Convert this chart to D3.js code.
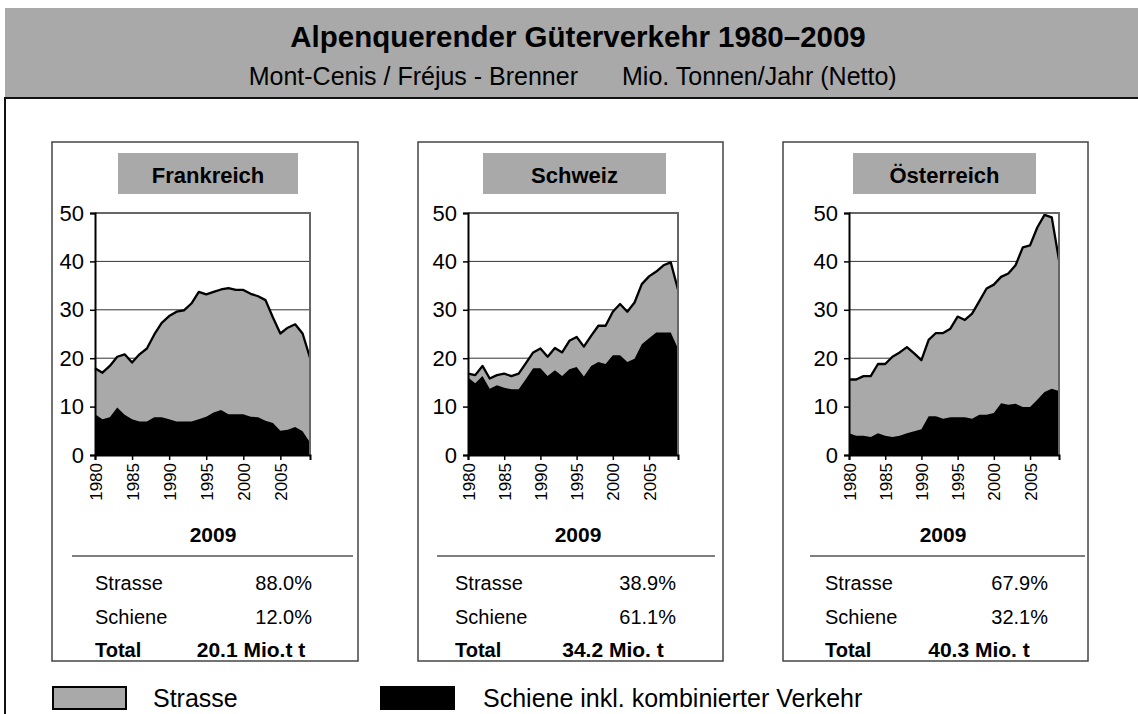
<!DOCTYPE html>
<html>
<head>
<meta charset="utf-8">
<script src="https://cdn.jsdelivr.net/npm/d3@7"></script>
<style>
  html, body { margin: 0; padding: 0; background: #fff; }
  svg { display: block; font-family: "Liberation Sans", Arial, sans-serif; }
</style>
</head>
<body>
<svg id="chart" width="1138" height="714"></svg>
<script>
/////////////////////////////////
// Alpine freight traffic, three small stacked area charts.
//

const years = [1980, 1981, 1982, 1983, 1984, 1985, 1986, 1987, 1988, 1989,
    1990, 1991, 1992, 1993, 1994, 1995, 1996, 1997, 1998, 1999,
    2000, 2001, 2002, 2003, 2004, 2005, 2006, 2007, 2008, 2009];

const countries = ["Frankreich", "Schweiz", "Österreich"];

// Total (Strasse + Schiene), Mio. t.
const totalFR = [17.9, 17.0, 18.4, 20.3, 20.8, 19.1, 20.8, 22.0, 24.9, 27.3,
    28.7, 29.6, 29.9, 31.3, 33.7, 33.2, 33.7, 34.2, 34.5, 34.1,
    34.1, 33.3, 32.8, 32.0, 28.4, 25.1, 26.3, 27.0, 25.1, 20.1];
const totalCH = [16.8, 16.5, 18.4, 15.8, 16.5, 16.8, 16.3, 16.8, 19.0, 21.2,
    22.0, 20.3, 22.1, 21.2, 23.6, 24.4, 22.4, 24.6, 26.7, 26.7,
    29.6, 31.2, 29.6, 31.5, 35.3, 36.9, 37.9, 39.2, 39.8, 34.2];
const totalAT = [15.6, 15.6, 16.3, 16.3, 18.8, 18.8, 20.3, 21.2, 22.3, 21.0,
    19.6, 23.8, 25.2, 25.2, 26.1, 28.6, 27.9, 29.2, 31.8, 34.4,
    35.2, 36.8, 37.5, 39.2, 42.9, 43.3, 47.0, 49.6, 49.1, 40.3];

// Schiene inkl. kombinierter Verkehr, Mio. t.
const railFR = [8.4, 7.4, 7.8, 9.8, 8.3, 7.4, 6.9, 6.9, 7.8, 7.8,
    7.4, 6.9, 6.9, 6.9, 7.4, 7.9, 8.8, 9.3, 8.4, 8.4,
    8.4, 7.9, 7.8, 7.1, 6.6, 5.0, 5.2, 5.8, 4.9, 2.6];
const railCH = [16.0, 14.8, 16.3, 13.7, 14.4, 13.9, 13.6, 13.6, 15.7, 17.9,
    17.9, 16.3, 17.5, 16.3, 17.7, 18.2, 16.2, 18.4, 19.2, 18.8,
    20.6, 20.6, 19.2, 19.9, 22.9, 24.1, 25.3, 25.3, 25.3, 22.0];
const railAT = [4.5, 4.0, 4.0, 3.7, 4.5, 4.0, 3.7, 4.0, 4.5, 4.9,
    5.3, 8.0, 8.0, 7.5, 7.8, 7.8, 7.8, 7.5, 8.3, 8.3,
    8.7, 10.7, 10.4, 10.6, 9.9, 9.9, 11.4, 13.0, 13.7, 13.2];

const shareRoad = ["88.0%", "38.9%", "67.9%"];
const shareRail = ["12.0%", "61.1%", "32.1%"];
const totalText = ["20.1 Mio.t t", "34.2 Mio. t", "40.3 Mio. t"];

const yTicks = [0, 10, 20, 30, 40, 50];
const xTicks = [1980, 1985, 1990, 1995, 2000, 2005];

const totals = [totalFR, totalCH, totalAT];
const rails = [railFR, railCH, railAT];

// Layout of each panel (page coordinates).
const panels = [
    { x0: 52, x1: 358, plotL: 95, plotR: 310, boxL: 118, boxR: 298, tabL: 95, tabR: 312, valC: 251, yearC: 213, lineL: 72, lineR: 353 },
    { x0: 418, x1: 723, plotL: 468, plotR: 678, boxL: 483, boxR: 666, tabL: 455, tabR: 676, valC: 613, yearC: 578, lineL: 437, lineR: 715 },
    { x0: 783, x1: 1088, plotL: 849, plotR: 1059, boxL: 853, boxR: 1036, tabL: 825, tabR: 1048, valC: 979, yearC: 943, lineL: 810, lineR: 1085 }
];

const plotTop = 213;
const plotBottom = 455;
const grey = "#a9a9a9";

const svg = d3.select("#chart");

// Header band.
svg.append("rect")
    .attr("x", 5).attr("y", 8).attr("width", 1140).attr("height", 90)
    .attr("fill", grey);

svg.append("text")
    .attr("x", 578).attr("y", 47)
    .attr("text-anchor", "middle")
    .style("font-size", "29.5px").style("font-weight", "bold")
    .text("Alpenquerender Güterverkehr 1980–2009");

svg.append("text")
    .attr("x", 578).attr("y", 85)
    .attr("text-anchor", "end")
    .style("font-size", "25px")
    .text("Mont-Cenis / Fréjus - Brenner");

svg.append("text")
    .attr("x", 622).attr("y", 85)
    .attr("text-anchor", "start")
    .style("font-size", "25px")
    .text("Mio. Tonnen/Jahr (Netto)");

// Main frame under the header.
svg.append("rect")
    .attr("x", 5).attr("y", 98).attr("width", 1140).attr("height", 630)
    .attr("fill", "none").attr("stroke", "#111").attr("stroke-width", 2);

countries.forEach((name, i) => {

    const p = panels[i];
    const g = svg.append("g");

    g.append("rect")
        .attr("x", p.x0).attr("y", 142)
        .attr("width", p.x1 - p.x0).attr("height", 519)
        .attr("fill", "#fff").attr("stroke", "#444").attr("stroke-width", 1.5);

    g.append("rect")
        .attr("x", p.boxL).attr("y", 153)
        .attr("width", p.boxR - p.boxL).attr("height", 41)
        .attr("fill", grey);

    g.append("text")
        .attr("x", (p.boxL + p.boxR) / 2).attr("y", 183)
        .attr("text-anchor", "middle")
        .style("font-size", "22px").style("font-weight", "bold")
        .text(name);

    const x = d3.scaleLinear().domain([years[0], years[years.length - 1]]).range([p.plotL, p.plotR]);
    const y = d3.scaleLinear().domain([0, 50]).range([plotBottom, plotTop]);

    // Grid lines.
    g.selectAll(".grid")
        .data(yTicks.filter((t) => t > 0 && t < 50))
        .enter()
        .append("line")
        .attr("x1", p.plotL).attr("x2", p.plotR)
        .attr("y1", (d) => y(d)).attr("y2", (d) => y(d))
        .attr("stroke", "#333").attr("stroke-width", 1);

    const totalSeries = years.map((yr, k) => ({ year: yr, v: totals[i][k] }));
    const railSeries = years.map((yr, k) => ({ year: yr, v: rails[i][k] }));

    const area = d3.area()
        .x((d) => x(d.year))
        .y0(y(0))
        .y1((d) => y(d.v));

    const line = d3.line()
        .x((d) => x(d.year))
        .y((d) => y(d.v));

    g.append("path")
        .datum(totalSeries)
        .attr("d", area)
        .attr("fill", grey);

    g.append("path")
        .datum(totalSeries)
        .attr("d", line)
        .attr("fill", "none")
        .attr("stroke", "#000")
        .attr("stroke-width", 2.3)
        .attr("stroke-linejoin", "round");

    g.append("path")
        .datum(railSeries)
        .attr("d", area)
        .attr("fill", "#000");

    // Plot area frame (top and right).
    g.append("path")
        .attr("d", `M${p.plotL},${plotTop}H${p.plotR}V${plotBottom}`)
        .attr("fill", "none").attr("stroke", "#666").attr("stroke-width", 2);

    // Axes.
    const yAxis = d3.axisLeft(y).tickValues(yTicks).tickSize(5).tickPadding(6);
    const yG = g.append("g")
        .attr("transform", `translate(${p.plotL},0)`)
        .call(yAxis);
    yG.select(".domain").attr("stroke", "#000").attr("stroke-width", 2);
    yG.selectAll(".tick line").attr("stroke", "#000").attr("stroke-width", 1.5);
    yG.selectAll(".tick text")
        .style("font-size", "22px")
        .style("font-family", "'Liberation Sans', Arial, sans-serif")
        .attr("fill", "#000");

    const xAxis = d3.axisBottom(x).tickValues(xTicks).tickSize(5).tickFormat(d3.format("d"));
    const xG = g.append("g")
        .attr("transform", `translate(0,${plotBottom})`)
        .call(xAxis);
    xG.select(".domain").attr("stroke", "#000").attr("stroke-width", 2);
    xG.selectAll(".tick line").attr("stroke", "#000").attr("stroke-width", 1.5);
    xG.selectAll(".tick text")
        .style("font-size", "17px")
        .style("font-family", "'Liberation Sans', Arial, sans-serif")
        .attr("fill", "#000")
        .attr("text-anchor", "end")
        .attr("dy", null)
        .attr("y", 0)
        .attr("transform", "translate(6,8) rotate(-90)");

    // 2009 summary table.
    g.append("text")
        .attr("x", p.yearC).attr("y", 542)
        .attr("text-anchor", "middle")
        .style("font-size", "21px").style("font-weight", "bold")
        .text("2009");

    g.append("line")
        .attr("x1", p.lineL).attr("x2", p.lineR)
        .attr("y1", 556).attr("y2", 556)
        .attr("stroke", "#555").attr("stroke-width", 1.5);

    const rows = [
        { label: "Strasse", value: shareRoad[i], y: 590, bold: false, anchor: "end", vx: p.tabR },
        { label: "Schiene", value: shareRail[i], y: 624, bold: false, anchor: "end", vx: p.tabR },
        { label: "Total", value: totalText[i], y: 657, bold: true, anchor: "middle", vx: p.valC }
    ];

    rows.forEach((r) => {

        g.append("text")
            .attr("x", p.tabL).attr("y", r.y)
            .style("font-size", "20px")
            .style("font-weight", r.bold ? "bold" : "normal")
            .text(r.label);

        g.append("text")
            .attr("x", r.vx).attr("y", r.y)
            .attr("text-anchor", r.anchor)
            .style("font-size", r.bold ? "21px" : "20px")
            .style("font-weight", r.bold ? "bold" : "normal")
            .text(r.value);
    });
});

// Legend.
svg.append("rect")
    .attr("x", 53).attr("y", 687).attr("width", 73).attr("height", 22)
    .attr("fill", grey).attr("stroke", "#000").attr("stroke-width", 2);
svg.append("text")
    .attr("x", 153).attr("y", 707)
    .style("font-size", "25px")
    .text("Strasse");

svg.append("rect")
    .attr("x", 380).attr("y", 686).attr("width", 75).attr("height", 24)
    .attr("fill", "#000");
svg.append("text")
    .attr("x", 483).attr("y", 707)
    .style("font-size", "25px")
    .text("Schiene inkl. kombinierter Verkehr");
</script>
</body>
</html>
